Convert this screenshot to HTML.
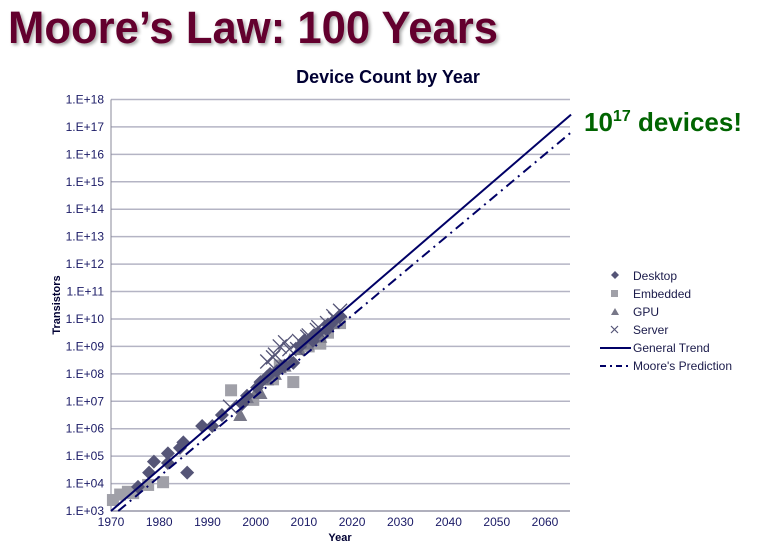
<!DOCTYPE html>
<html><head><meta charset="utf-8"><style>
body{margin:0;background:#fff;}
svg{display:block;font-family:"Liberation Sans",Arial,sans-serif;}
</style></head><body>
<svg id="chart" width="773" height="544" xmlns="http://www.w3.org/2000/svg">
<defs><filter id="sh" x="-5%" y="-5%" width="110%" height="130%"><feDropShadow dx="2" dy="2" stdDeviation="1.5" flood-color="#000" flood-opacity="0.35"/></filter></defs>
<text x="8" y="43" font-size="45" font-weight="bold" fill="#64002e" textLength="490" lengthAdjust="spacingAndGlyphs" filter="url(#sh)">Moore’s Law: 100 Years</text>
<text x="388" y="83" font-size="18" font-weight="bold" fill="#000033" text-anchor="middle">Device Count by Year</text>
<text x="584" y="131" font-size="26" font-weight="bold" fill="#006400">10<tspan font-size="16" dy="-10">17</tspan><tspan dy="10"> devices!</tspan></text>
<g id="grid"></g><g id="axes"></g><g id="marks"></g>
<text x="340" y="541" font-size="11" font-weight="bold" fill="#000033" text-anchor="middle">Year</text>
<text transform="translate(60,305) rotate(-90)" font-size="11" font-weight="bold" fill="#000033" text-anchor="middle">Transistors</text>
<g font-size="12" fill="#1a1a4a">
<path d="M615,271 l4,4 l-4,4 l-4,-4z" fill="#555577"/>
<text x="633" y="280">Desktop</text>
<rect x="611" y="290" width="7" height="7" fill="#a0a0a8"/>
<text x="633" y="298">Embedded</text>
<path d="M615,308 l4,7 l-8,0z" fill="#777788"/>
<text x="633" y="316">GPU</text>
<path d="M611,326 l7,7 M618,326 l-7,7" stroke="#555577" stroke-width="1.2"/>
<text x="633" y="334">Server</text>
<line x1="600" y1="348" x2="631" y2="348" stroke="#000066" stroke-width="2"/>
<text x="633" y="352">General Trend</text>
<line x1="600" y1="366" x2="631" y2="366" stroke="#000066" stroke-width="2" stroke-dasharray="6,4,2,4"/>
<text x="633" y="370">Moore's Prediction</text>
</g>
</svg>
<script>
const yTickExps=[3,4,5,6,7,8,9,10,11,12,13,14,15,16,17,18];
const xTickYears=[1970,1980,1990,2000,2010,2020,2030,2040,2050,2060];
const desktopYears=[1975.6,1977.9,1978.9,1981.8,1981.8,1984.3,1985,1985.8,1988.9,1991,1993,1997.2,1998.2,2000.3,2002.4,2004.4,2007.8,2009.2,2011.9,2014.8,2017.5,2001,2003,2006,2010,2012,2013,2015,2016];
const desktopLogs=[3.88,4.4,4.8,4.75,5.1,5.3,5.5,4.4,6.1,6.1,6.5,6.9,7.2,7.5,7.9,8.1,8.4,9.0,9.2,9.6,10.1,7.7,8.0,8.3,9.2,9.4,9.5,9.8,9.9];
const embeddedYears=[1970.4,1971.9,1973.5,1974.6,1977.7,1980.8,1994.9,2007.8,1999.5,2003.6,2013.4,2017.5,2005,2011,2015];
const embeddedLogs=[3.4,3.6,3.7,3.65,3.95,4.05,7.4,7.7,7.05,7.8,9.1,9.85,8.3,9.0,9.5];
const gpuYears=[1996.8,1998.2,2000.3,2002.4,2005,2007.1,2010.7,2013.4,2016.1,2001,2004,2006,2009,2012];
const gpuLogs=[6.5,7.15,7.4,7.8,8.25,8.5,9.1,9.35,9.85,7.3,8.0,8.3,8.9,9.4];
const serverYears=[1994.7,2002.4,2003.6,2006.1,2005,2008.6,2010.7,2012.7,2016.1,2017.5,2014.8,2004,2007,2009,2011,2013,2016.5];
const serverLogs=[6.8,8.45,8.6,9.15,9.0,8.9,9.35,9.6,10.1,10.3,9.85,8.7,8.9,9.2,9.4,9.7,10.0];
const trendYears=[1970,2065.4];
const trendLogs=[3,17.45];
const mooreYears=[1971.5,2065.4];
const mooreLogs=[3,16.8];

const NS="http://www.w3.org/2000/svg";
const X0=111,X1=570,Y0=511,Y1=99.5;
const xS=y=>X0+(y-1970)*(545-111)/90;
const yS=l=>Y0-(l-3)*(Y0-Y1)/15;
function mk(tag,attrs,parent){const e=document.createElementNS(NS,tag);for(const k in attrs)e.setAttribute(k,attrs[k]);parent.appendChild(e);return e;}
const grid=document.getElementById('grid'),axes=document.getElementById('axes'),marks=document.getElementById('marks');
yTickExps.forEach(e=>{
  const g=mk('line',{x1:X0,x2:X1,y1:yS(e),y2:yS(e),stroke:'#b4b4c4','stroke-width':1.5},grid);
  
  
  const t=mk('text',{x:104,y:yS(e)+4,'font-size':12,fill:'#1a1a66','text-anchor':'end'},axes);
  t.textContent='1.E+'+(e<10?'0'+e:e);
  
  
});
xTickYears.forEach(y=>{
  const t=mk('text',{x:xS(y),y:526,'font-size':12,fill:'#1a1a66','text-anchor':'middle'},axes);
  t.textContent=y;
  
  
});
const ax=mk('path',{d:`M${X0},${Y1} V${Y0} H${X1}`,fill:'none',stroke:'#888899','stroke-width':1},axes);


embeddedYears.forEach((y,i)=>{
  const cx=xS(y),cy=yS(embeddedLogs[i]);
  const r=mk('rect',{x:cx-6,y:cy-6,width:12,height:12,fill:'#a0a0a8'},marks);
  
  
});
gpuYears.forEach((y,i)=>{
  const cx=xS(y),cy=yS(gpuLogs[i]);
  const p=mk('path',{d:`M${cx},${cy-7} L${cx+7},${cy+6} L${cx-7},${cy+6}Z`,fill:'#777788'},marks);
  
  
});
desktopYears.forEach((y,i)=>{
  const cx=xS(y),cy=yS(desktopLogs[i]);
  const p=mk('path',{d:`M${cx},${cy-7} L${cx+7},${cy} L${cx},${cy+7} L${cx-7},${cy}Z`,fill:'#555577'},marks);
  
  
});
serverYears.forEach((y,i)=>{
  const cx=xS(y),cy=yS(serverLogs[i]);
  const p=mk('path',{d:`M${cx-7},${cy-7} L${cx+7},${cy+7} M${cx+7},${cy-7} L${cx-7},${cy+7}`,stroke:'#555577','stroke-width':1.3},marks);
  
  
});
const tl=mk('line',{x1:xS(trendYears[0]),y1:yS(trendLogs[0]),x2:xS(trendYears[1]),y2:yS(trendLogs[1]),stroke:'#000066','stroke-width':2},marks);


const ml=mk('line',{x1:xS(mooreYears[0]),y1:yS(mooreLogs[0]),x2:xS(mooreYears[1]),y2:yS(mooreLogs[1]),stroke:'#000066','stroke-width':2,'stroke-dasharray':'10,5,2,5'},marks);


</script>
</body></html>
